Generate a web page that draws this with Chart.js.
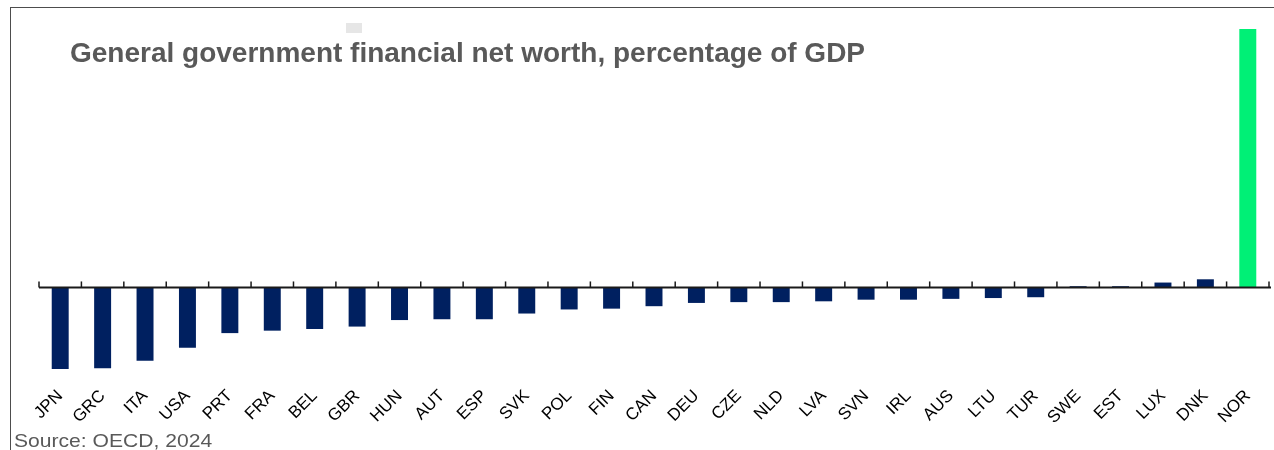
<!DOCTYPE html>
<html lang="en">
<head>
  <meta charset="UTF-8">
  <title>General government financial net worth</title>
  <script src="https://cdn.jsdelivr.net/npm/chart.js"></script>
  <style>
    html, body { margin: 0; padding: 0; background: #fff; }
    .wrap { position: relative; width: 1274px; height: 450px; overflow: hidden; font-family: "Liberation Sans", Arial, sans-serif; }
    .frame { position: absolute; left: 10px; top: 7px; width: 1270px; height: 460px; border-left: 1.5px solid #4d4d4d; border-top: 1.5px solid #4d4d4d; }
    .title { position: absolute; left: 70px; top: 39px; font-size: 28px; font-weight: bold; color: #595959; line-height: 1; white-space: nowrap; }
    .mark { position: absolute; left: 346px; top: 23px; width: 16px; height: 10px; background: #e6e6e6; }
    .source { position: absolute; left: 14px; top: 430.5px; font-size: 19px; color: #595959; line-height: 1; white-space: nowrap; transform: scaleX(1.11); transform-origin: left top; }
    canvas { position: absolute; left: 0; top: 0; }
  </style>
</head>
<body>
  <div class="wrap">
    <canvas id="mychart" width="1274" height="450"></canvas>
    <div class="frame"></div>
    <div class="mark"></div>
    <div class="title">General government financial net worth, percentage of GDP</div>
    <div class="source">Source: OECD, 2024</div>
  </div>
  <script>
    const countries = ['JPN', 'GRC', 'ITA', 'USA', 'PRT', 'FRA', 'BEL', 'GBR', 'HUN', 'AUT', 'ESP', 'SVK', 'POL', 'FIN', 'CAN',
      'DEU', 'CZE', 'NLD', 'LVA', 'SVN', 'IRL', 'AUS', 'LTU', 'TUR', 'SWE', 'EST', 'LUX', 'DNK', 'NOR'];
    const netWorth = [-100, -99, -90, -74, -56, -53, -51, -48, -40, -39, -39, -32, -27, -26, -23,
      -19, -18, -18, -17, -15, -15, -14, -13, -12, 1.5, 1.5, 6, 10, 317];
    const highlight = 'NOR';

    const barColors = countries.map(c => c === highlight ? 'rgb(0, 240, 118)' : '#002060');

    // zero line with small upward ticks between categories
    const zeroAxis = {
      id: 'zeroAxis',
      afterDatasetsDraw(chart) {
        const ctx = chart.ctx;
        const x = chart.scales.x;
        const y0 = chart.scales.y.getPixelForValue(0);
        const step = (x.right - x.left) / countries.length;
        ctx.save();
        ctx.strokeStyle = '#1a1a1a';
        ctx.lineWidth = 2;
        ctx.beginPath();
        ctx.moveTo(x.left, y0);
        ctx.lineTo(x.right + 2, y0);
        ctx.stroke();
        ctx.lineWidth = 1.5;
        for (let i = 0; i <= countries.length; i++) {
          const px = x.left + i * step;
          ctx.beginPath();
          ctx.moveTo(px, y0);
          ctx.lineTo(px, y0 - 6);
          ctx.stroke();
        }
        ctx.restore();
      }
    };

    new Chart(document.getElementById('mychart'), {
      type: 'bar',
      data: {
        labels: countries,
        datasets: [{
          data: netWorth,
          backgroundColor: barColors,
          barPercentage: 0.4,
          categoryPercentage: 1
        }]
      },
      options: {
        responsive: false,
        animation: false,
        layout: { padding: { left: 39, right: 5, top: 20, bottom: 0 } },
        scales: {
          y: {
            display: false,
            min: -103.7,
            max: 328
          },
          x: {
            grid: { display: false },
            border: { display: false },
            afterFit(scale) { scale.height = 78; },
            ticks: {
              color: '#000',
              font: { family: '"Liberation Sans", Arial, sans-serif', size: 17 },
              minRotation: 45,
              maxRotation: 45,
              padding: 6
            }
          }
        },
        plugins: {
          legend: { display: false },
          tooltip: { enabled: false }
        }
      },
      plugins: [zeroAxis]
    });
  </script>
</body>
</html>
